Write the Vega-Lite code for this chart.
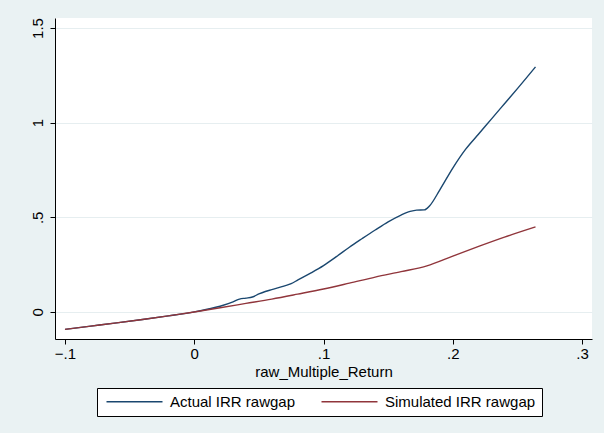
{
  "$schema": "https://vega.github.io/schema/vega-lite/v6.json",
  "width": 537,
  "height": 321,
  "autosize": {"type": "none"},
  "padding": {"left": 55, "top": 18, "right": 12, "bottom": 94},
  "background": "#EAF2F3",
  "config": {
    "font": "Liberation Sans",
    "view": {"fill": "white", "stroke": null},
    "axis": {
      "labelFont": "Liberation Sans",
      "titleFont": "Liberation Sans",
      "labelColor": "black",
      "titleColor": "black",
      "domainColor": "black",
      "tickColor": "black",
      "labelFontSize": 15,
      "titleFontSize": 15,
      "titleFontWeight": "normal"
    },
    "legend": {
      "labelFont": "Liberation Sans",
      "labelFontSize": 15,
      "labelColor": "black"
    }
  },
  "data": {
    "values": [
      {"x": -0.1, "y": -0.092, "series": "Actual IRR rawgap"},
      {"x": -0.08, "y": -0.075, "series": "Actual IRR rawgap"},
      {"x": -0.06, "y": -0.058, "series": "Actual IRR rawgap"},
      {"x": -0.04, "y": -0.04, "series": "Actual IRR rawgap"},
      {"x": -0.02, "y": -0.021, "series": "Actual IRR rawgap"},
      {"x": 0, "y": 0, "series": "Actual IRR rawgap"},
      {"x": 0.01, "y": 0.014, "series": "Actual IRR rawgap"},
      {"x": 0.02, "y": 0.03, "series": "Actual IRR rawgap"},
      {"x": 0.03, "y": 0.053, "series": "Actual IRR rawgap"},
      {"x": 0.035, "y": 0.068, "series": "Actual IRR rawgap"},
      {"x": 0.04, "y": 0.073, "series": "Actual IRR rawgap"},
      {"x": 0.045, "y": 0.079, "series": "Actual IRR rawgap"},
      {"x": 0.05, "y": 0.095, "series": "Actual IRR rawgap"},
      {"x": 0.055, "y": 0.108, "series": "Actual IRR rawgap"},
      {"x": 0.06, "y": 0.118, "series": "Actual IRR rawgap"},
      {"x": 0.07, "y": 0.138, "series": "Actual IRR rawgap"},
      {"x": 0.075, "y": 0.15, "series": "Actual IRR rawgap"},
      {"x": 0.08, "y": 0.168, "series": "Actual IRR rawgap"},
      {"x": 0.09, "y": 0.205, "series": "Actual IRR rawgap"},
      {"x": 0.1, "y": 0.245, "series": "Actual IRR rawgap"},
      {"x": 0.11, "y": 0.292, "series": "Actual IRR rawgap"},
      {"x": 0.12, "y": 0.342, "series": "Actual IRR rawgap"},
      {"x": 0.13, "y": 0.388, "series": "Actual IRR rawgap"},
      {"x": 0.14, "y": 0.433, "series": "Actual IRR rawgap"},
      {"x": 0.15, "y": 0.476, "series": "Actual IRR rawgap"},
      {"x": 0.16, "y": 0.512, "series": "Actual IRR rawgap"},
      {"x": 0.167, "y": 0.531, "series": "Actual IRR rawgap"},
      {"x": 0.172, "y": 0.538, "series": "Actual IRR rawgap"},
      {"x": 0.178, "y": 0.539, "series": "Actual IRR rawgap"},
      {"x": 0.182, "y": 0.56, "series": "Actual IRR rawgap"},
      {"x": 0.19, "y": 0.645, "series": "Actual IRR rawgap"},
      {"x": 0.2, "y": 0.76, "series": "Actual IRR rawgap"},
      {"x": 0.21, "y": 0.86, "series": "Actual IRR rawgap"},
      {"x": 0.22, "y": 0.94, "series": "Actual IRR rawgap"},
      {"x": 0.23, "y": 1.02, "series": "Actual IRR rawgap"},
      {"x": 0.24, "y": 1.1, "series": "Actual IRR rawgap"},
      {"x": 0.25, "y": 1.18, "series": "Actual IRR rawgap"},
      {"x": 0.264, "y": 1.295, "series": "Actual IRR rawgap"},
      {"x": -0.1, "y": -0.092, "series": "Simulated IRR rawgap"},
      {"x": -0.08, "y": -0.075, "series": "Simulated IRR rawgap"},
      {"x": -0.06, "y": -0.058, "series": "Simulated IRR rawgap"},
      {"x": -0.04, "y": -0.04, "series": "Simulated IRR rawgap"},
      {"x": -0.02, "y": -0.021, "series": "Simulated IRR rawgap"},
      {"x": 0, "y": 0, "series": "Simulated IRR rawgap"},
      {"x": 0.02, "y": 0.022, "series": "Simulated IRR rawgap"},
      {"x": 0.04, "y": 0.045, "series": "Simulated IRR rawgap"},
      {"x": 0.06, "y": 0.068, "series": "Simulated IRR rawgap"},
      {"x": 0.08, "y": 0.094, "series": "Simulated IRR rawgap"},
      {"x": 0.1, "y": 0.121, "series": "Simulated IRR rawgap"},
      {"x": 0.12, "y": 0.152, "series": "Simulated IRR rawgap"},
      {"x": 0.14, "y": 0.184, "series": "Simulated IRR rawgap"},
      {"x": 0.16, "y": 0.213, "series": "Simulated IRR rawgap"},
      {"x": 0.18, "y": 0.243, "series": "Simulated IRR rawgap"},
      {"x": 0.2, "y": 0.295, "series": "Simulated IRR rawgap"},
      {"x": 0.22, "y": 0.346, "series": "Simulated IRR rawgap"},
      {"x": 0.24, "y": 0.395, "series": "Simulated IRR rawgap"},
      {"x": 0.264, "y": 0.449, "series": "Simulated IRR rawgap"}
    ]
  },
  "mark": {"type": "line", "strokeWidth": 1.4, "interpolate": "monotone"},
  "encoding": {
    "x": {
      "field": "x",
      "type": "quantitative",
      "title": "raw_Multiple_Return",
      "scale": {"domain": [-0.1077, 0.3077], "nice": false, "zero": false},
      "axis": {
        "values": [-0.1, 0, 0.1, 0.2, 0.3],
        "grid": false,
        "tickSize": 5,
        "labelPadding": 2,
        "titlePadding": 3,
        "labelExpr": "replace(replace(format(datum.value, '.1~f'), '0.', '.'), '-', '–')"
      }
    },
    "y": {
      "field": "y",
      "type": "quantitative",
      "title": null,
      "scale": {"domain": [-0.143, 1.553], "nice": false, "zero": false},
      "axis": {
        "values": [0, 0.5, 1, 1.5],
        "grid": true,
        "gridColor": "#E6EEF0",
        "gridWidth": 1,
        "gridOpacity": 1,
        "tickSize": 5,
        "labelAngle": -90,
        "labelPadding": 5,
        "labelExpr": "replace(format(datum.value, '.1~f'), '0.', '.')"
      }
    },
    "color": {
      "field": "series",
      "type": "nominal",
      "scale": {
        "domain": ["Actual IRR rawgap", "Simulated IRR rawgap"],
        "range": ["#1a476f", "#90353b"]
      },
      "legend": {
        "title": null,
        "orient": "none",
        "legendX": 42,
        "legendY": 370,
        "direction": "horizontal",
        "fillColor": "white",
        "strokeColor": "black",
        "padding": 6,
        "symbolType": "M-7,0H7",
        "symbolSize": 64,
        "symbolOffset": 24,
        "symbolStrokeWidth": 1.4,
        "labelOffset": 28,
        "columnPadding": 22
      }
    }
  }
}
